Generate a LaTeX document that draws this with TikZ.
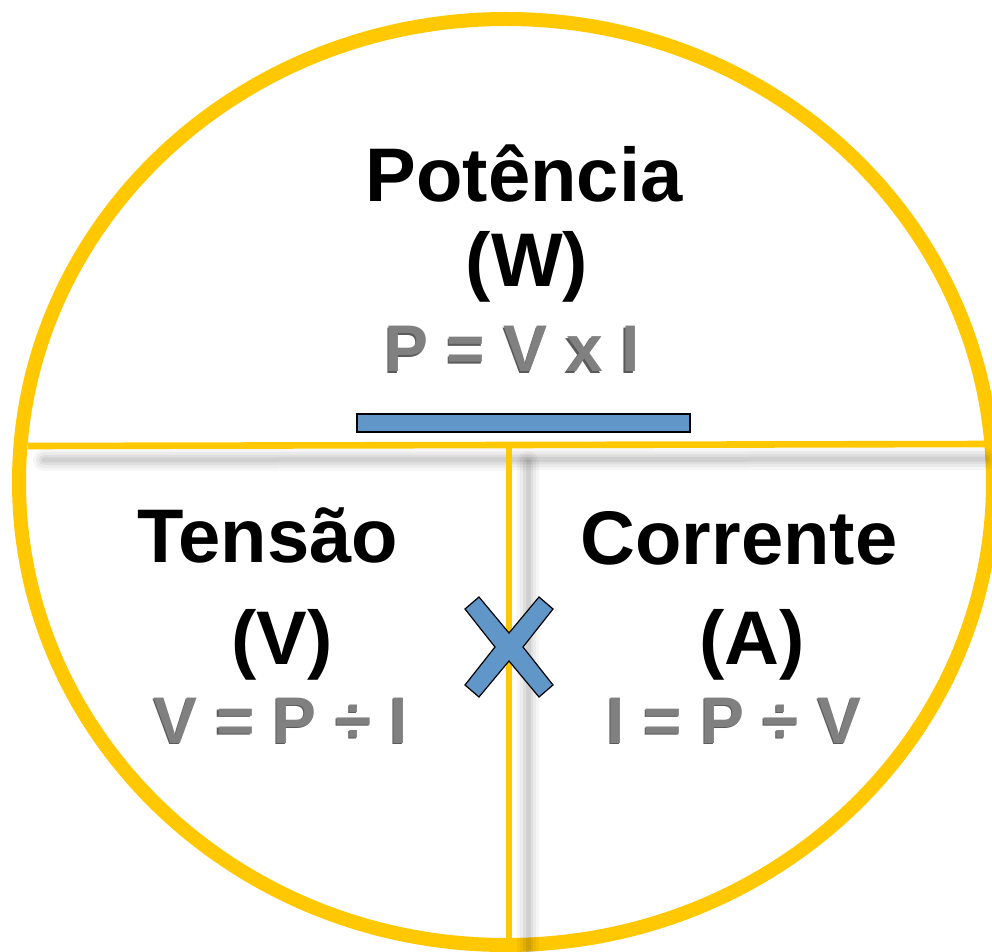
\documentclass[tikz,border=0pt]{standalone}
\usepackage{fontspec}
\setmainfont{Liberation Sans}
\definecolor{ringgold}{RGB}{255,200,0}
\definecolor{barblue}{RGB}{97,150,201}
\definecolor{formgray}{RGB}{128,128,128}
\definecolor{formdark}{RGB}{90,90,90}
\newcommand{\embossed}[1]{\rlap{\kern-0.6pt\raisebox{-0.6pt}{\textcolor{formdark}{#1}}}#1}
\tikzset{
  heading/.style={font=\bfseries\fontsize{38}{40}\selectfont,anchor=base,inner sep=0pt},
  formula/.style={font=\bfseries\fontsize{33}{35}\selectfont,text=formgray,anchor=base,inner sep=0pt},
  ring/.style={draw=ringgold,line width=7pt},
  divider/.style={draw=ringgold,line width=3.3pt},
  sign/.style={draw=black,line width=0.6pt,fill=barblue}
}

\begin{document}
\begin{tikzpicture}[x=0.5pt,y=-0.5pt]
  \useasboundingbox (0,0) rectangle (992,952);
  \fill[white] (0,0) rectangle (992,952);

  % outer ring
  \draw[ring] (506,482) ellipse [x radius=487, y radius=463];

  % end points of the dividers
  \coordinate (hleft) at (28,446);
  \coordinate (hright) at (992,444);
  \coordinate (vtop) at (509,445);
  \coordinate (vbot) at (509,952);
  \coordinate (hsleft) at (44,460);
  \coordinate (hsright) at (985,459);
  \coordinate (vstop) at (528,462);
  \coordinate (vsbot) at (528,952);

  % soft shadows under the dividers
  \foreach \w/\o in {11pt/0.035,8pt/0.045,5pt/0.055,2.5pt/0.06}{
    \draw[black,opacity=\o,line width=\w,line cap=round] (hsleft) -- (hsright);
    \draw[black,opacity=\o,line width=\w,line cap=round] (vstop) -- (vsbot);
  }

  \draw[divider] (hleft) -- (hright);
  \draw[divider] (vtop) -- (vbot);

  % division bar and times sign
  \filldraw[sign] (357,414) rectangle (690,432);
  \filldraw[sign] (479,597) -- (509,633) -- (539,597) -- (553,609) -- (523,647)
    -- (553,685) -- (539,697) -- (509,661) -- (479,697) -- (465,685)
    -- (495,647) -- (465,609) -- cycle;

  % power
  \node[heading] (pot) at (524,202) {Potência};
  \node[heading] (potunit) at (527,287) {(W)};
  \node[formula] (potform) at (512,372) {\embossed{P = V x I}};

  % voltage
  \node[heading] (ten) at (268,563) {Tensão};
  \node[heading] (tenunit) at (282,664) {(V)};
  \node[formula] (tenform) at (281,743) {\embossed{V = P ÷ I}};

  % current
  \node[heading] (cor) at (739,565) {Corrente};
  \node[heading] (corunit) at (752,664) {(A)};
  \node[formula] (corform) at (734,743) {\embossed{I = P ÷ V}};
\end{tikzpicture}
\end{document}
